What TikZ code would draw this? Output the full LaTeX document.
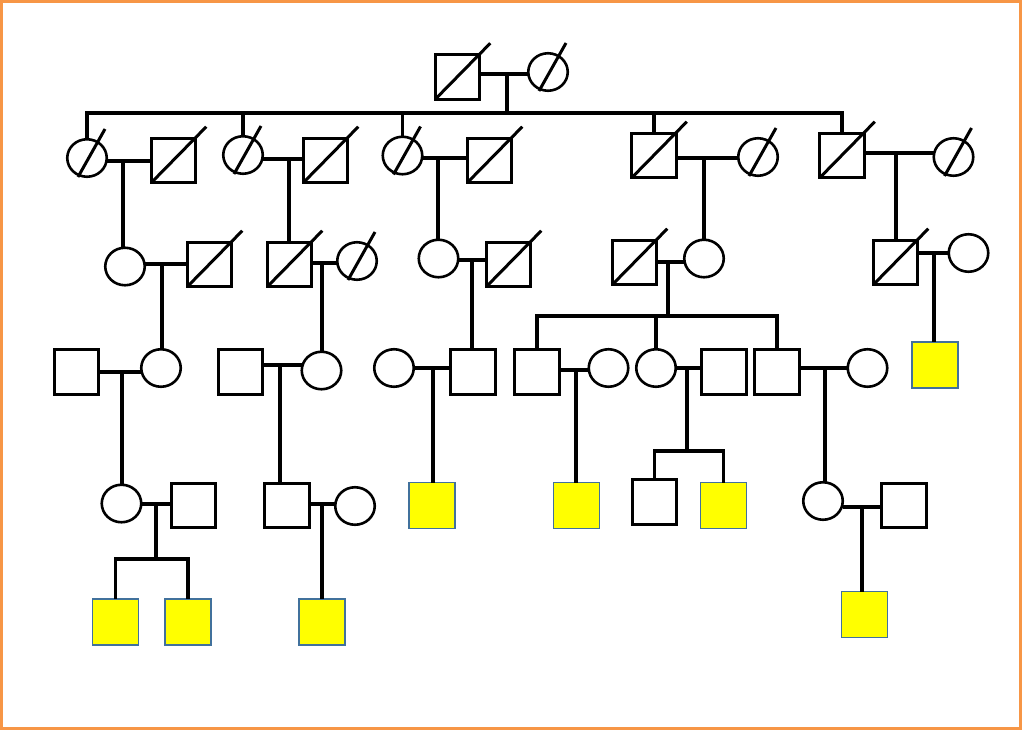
\documentclass[tikz,border=0pt]{standalone}
\usetikzlibrary{shapes.geometric,calc}
\definecolor{frameor}{RGB}{247,150,70}
\definecolor{affy}{RGB}{255,255,0}
\definecolor{affb}{RGB}{65,113,156}
\newcommand\decsq[1]{\draw[slashline] (#1.south west) -- ++(55,-56);}
\newcommand\decci[1]{\draw[slashline] (#1.center) ++(-9,19) -- ++(27,-48);}
\begin{document}
\begin{tikzpicture}[x=1pt,y=-1pt,
 sq/.style={rectangle,draw=black,line width=2.6pt,minimum size=44.5pt,inner sep=0pt,outer sep=0pt,fill=white},
 ci/.style={ellipse,draw=black,line width=2.6pt,minimum width=39.5pt,minimum height=37.5pt,inner sep=0pt,outer sep=0pt,fill=white},
 aff/.style={rectangle,draw=affb,line width=1.6pt,fill=affy,minimum size=46pt,inner sep=0pt,outer sep=0pt},
 conn/.style={line width=3.3pt,black},
 slashline/.style={line width=3pt,black}]
\useasboundingbox (0,0) rectangle (1024,730);
\draw[frameor,line width=3pt] (1.5,1.5) rectangle (1020,728.5);
% generation 1
\node[sq] (GF) at (457.5,77) {};
\node[ci] (GM) at (548,72) {};
% generation 2
\node[ci] (A1) at (87,158) {};
\node[sq] (A1h) at (173.5,160.5) {};
\node[ci] (A2) at (243,155) {};
\node[sq] (A2h) at (325.5,160.5) {};
\node[ci] (A3) at (402.5,155.5) {};
\node[sq] (A3h) at (489.5,160.5) {};
\node[sq] (A4) at (654,155.5) {};
\node[ci] (A4w) at (758,157) {};
\node[sq] (A5) at (842,155.5) {};
\node[ci] (A5w) at (953.5,157) {};
% generation 3
\node[ci] (B1) at (125,266.5) {};
\node[sq] (B1h) at (209.5,264.5) {};
\node[sq] (B2) at (289.5,264.5) {};
\node[ci] (B2w) at (357,261) {};
\node[ci] (B3) at (438.5,258.5) {};
\node[sq] (B3h) at (508.5,264.5) {};
\node[sq] (B4) at (634.5,262.5) {};
\node[ci] (B4w) at (704,258.5) {};
\node[sq] (B5) at (895.5,262.5) {};
\node[ci] (B5w) at (968.5,253) {};
% generation 4
\node[sq] (C1) at (76.5,372) {};
\node[ci] (C1w) at (161,368) {};
\node[sq] (C2) at (240.5,372) {};
\node[ci] (C2w) at (321.5,370.5) {};
\node[ci] (C3) at (394,368) {};
\node[sq] (C3h) at (473,372) {};
\node[sq] (C4) at (537,372) {};
\node[ci] (C4w) at (608.5,368) {};
\node[ci] (C5) at (656,368) {};
\node[sq] (C5h) at (724,372) {};
\node[sq] (C6) at (777,372) {};
\node[ci] (C6w) at (867.5,368) {};
\node[aff] (C7) at (935,365) {};
% generation 5
\node[ci] (D1) at (121.5,503.5) {};
\node[sq] (D1h) at (193.5,505.5) {};
\node[aff] (D2) at (115.5,622) {};
\node[aff] (D3) at (188,622) {};
\node[sq] (D4) at (287,505.5) {};
\node[ci] (D4w) at (355,506) {};
\node[aff] (D5) at (322,622) {};
\node[aff] (D6) at (432,505.5) {};
\node[aff] (D7) at (576.5,505.5) {};
\node[sq] (D8) at (654.5,502) {};
\node[aff] (D9) at (723.5,505.5) {};
\node[ci] (D10) at (823,501) {};
\node[sq] (D10h) at (904,505.5) {};
\node[aff] (D11) at (864.5,614.5) {};
% marriage points
\coordinate (m0) at (507,74);
\coordinate (sb0) at (507,113);
\coordinate (m1) at (123,161);
\coordinate (m2) at (289,159);
\coordinate (m3) at (438,158);
\coordinate (m4) at (704,158);
\coordinate (m5) at (896,153);
\coordinate (m6) at (162,264);
\coordinate (m7) at (322,263);
\coordinate (m8) at (472,260);
\coordinate (m9) at (668,262);
\coordinate (sb9) at (668,316);
\coordinate (m10) at (934,253);
\coordinate (m11) at (122,372);
\coordinate (m12) at (280,365);
\coordinate (m13) at (433,368);
\coordinate (m14) at (576,370);
\coordinate (m15) at (687,368);
\coordinate (sb15) at (687,451);
\coordinate (m16) at (825,368);
\coordinate (m18) at (156,504);
\coordinate (sb18) at (156,559);
\coordinate (m21) at (322,504);
\coordinate (m27) at (862,507);
% couple lines
\draw[conn] (GF.east |- m0) -- (GM.west |- m0);
\draw[conn] (A1.east |- m1) -- (A1h.west |- m1);
\draw[conn] (A2.east |- m2) -- (A2h.west |- m2);
\draw[conn] (A3.east |- m3) -- (A3h.west |- m3);
\draw[conn] (A4.east |- m4) -- (A4w.west |- m4);
\draw[conn] (A5.east |- m5) -- (A5w.west |- m5);
\draw[conn] (B1.east |- m6) -- (B1h.west |- m6);
\draw[conn] (B2.east |- m7) -- (B2w.west |- m7);
\draw[conn] (B3.east |- m8) -- (B3h.west |- m8);
\draw[conn] (B4.east |- m9) -- (B4w.west |- m9);
\draw[conn] (B5.east |- m10) -- (B5w.west |- m10);
\draw[conn] (C1.east |- m11) -- (C1w.west |- m11);
\draw[conn] (C2.east |- m12) -- (C2w.west |- m12);
\draw[conn] (C3.east |- m13) -- (C3h.west |- m13);
\draw[conn] (C4.east |- m14) -- (C4w.west |- m14);
\draw[conn] (C5.east |- m15) -- (C5h.west |- m15);
\draw[conn] (C6.east |- m16) -- (C6w.west |- m16);
\draw[conn] (D1.east |- m18) -- (D1h.west |- m18);
\draw[conn] (D4.east |- m21) -- (D4w.west |- m21);
\draw[conn] (D10.east |- m27) -- (D10h.west |- m27);
% sibships and descents
\draw[conn] (m0) -- (sb0);
\draw[conn] (A1.north) -- (A1.north |- sb0) -- (A5.north |- sb0) -- (A5.north);
\foreach \n in {A2,A3,A4} \draw[conn] (\n.north |- sb0) -- (\n.north);
\draw[conn] (m1) -- (m1 |- B1.north);
\draw[conn] (m2) -- (m2 |- B2.north);
\draw[conn] (m3) -- (m3 |- B3.north);
\draw[conn] (m4) -- (m4 |- B4w.north);
\draw[conn] (m5) -- (m5 |- B5.north);
\draw[conn] (m6) -- (m6 |- C1w.north);
\draw[conn] (m7) -- (m7 |- C2w.north);
\draw[conn] (m8) -- (m8 |- C3h.north);
\draw[conn] (m9) -- (sb9);
\draw[conn] (C4.north) -- (C4.north |- sb9) -- (C6.north |- sb9) -- (C6.north);
\draw[conn] (C5.north |- sb9) -- (C5.north);
\draw[conn] (m10) -- (m10 |- C7.north);
\draw[conn] (m11) -- (m11 |- D1.north);
\draw[conn] (m12) -- (m12 |- D4.north);
\draw[conn] (m13) -- (m13 |- D6.north);
\draw[conn] (m14) -- (m14 |- D7.north);
\draw[conn] (m15) -- (sb15);
\draw[conn] (D8.north) -- (D8.north |- sb15) -- (D9.north |- sb15) -- (D9.north);
\draw[conn] (m16) -- (m16 |- D10.north);
\draw[conn] (m18) -- (sb18);
\draw[conn] (D2.north) -- (D2.north |- sb18) -- (D3.north |- sb18) -- (D3.north);
\draw[conn] (m21) -- (m21 |- D5.north);
\draw[conn] (m27) -- (m27 |- D11.north);
% deceased marks
\decsq{GF} \decci{GM}
\decci{A1} \decsq{A1h} \decci{A2} \decsq{A2h} \decci{A3} \decsq{A3h}
\decsq{A4} \decci{A4w} \decsq{A5} \decci{A5w}
\decsq{B1h} \decsq{B2} \decci{B2w} \decsq{B3h} \decsq{B4} \decsq{B5}
\end{tikzpicture}
\end{document}
